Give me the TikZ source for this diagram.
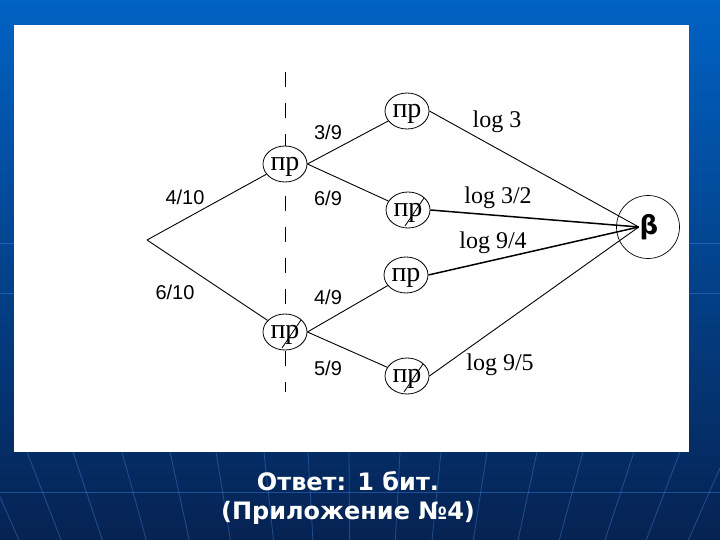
\documentclass[tikz,border=0pt]{standalone}
\usepackage{fontspec}
\setmainfont{Liberation Serif}
\newfontfamily\fracfont{Liberation Sans}
\newfontfamily\ansfont{DejaVu Sans}
\usetikzlibrary{shapes.geometric}

\definecolor{bgtop}{RGB}{0,98,196}
\definecolor{bgbot}{RGB}{6,34,82}
\definecolor{bgline}{RGB}{70,140,230}

\begin{document}
\begin{tikzpicture}[x=1pt,y=-1pt,line width=0.9pt,
  pr/.style={draw, ellipse, fill=white, minimum width=44pt, minimum height=36pt,
    inner sep=0pt, line width=0.8pt, text height=13pt, text depth=0pt,
    font=\fontsize{28}{28}\selectfont},
  prx/.style={pr, path picture={\draw[line width=0.8pt]
    ([shift={(-3pt,-16pt)}]path picture bounding box.center) --
    ([shift={(16pt,12pt)}]path picture bounding box.center);}},
  frac/.style={font=\fracfont\fontsize{20}{20}\selectfont, inner sep=1pt},
  lg/.style={font=\fontsize{24}{24}\selectfont, inner sep=1pt},
  faint/.style={draw=bgline, opacity=0.4, line width=0.8pt}]

  \useasboundingbox (0,0) rectangle (720,540);
  % slide background
  \shade[top color=bgtop, bottom color=bgbot] (0,0) rectangle (720,540);
  \begin{scope}
    \clip (0,0) rectangle (720,540);
    \foreach \x in {-20,27,73,122,170,216,264,308,349,400,441,487,537,583,634,680,727}
      \draw[faint] (\x,452) -- ({\x+(355-\x)*0.104},540);
    \foreach \y in {243,293,492}
      \draw[faint] (0,\y) -- (720,\y);
  \end{scope}
  \fill[white] (14,25) rectangle (689,452);

  \draw[dash pattern=on 15pt off 16pt] (285,72) -- (285,392);

  \coordinate (r) at (147,240);
  \node[pr]  (a1) at (285,164) {пр};
  \node[prx] (a2) at (285,332) {пр};
  \node[pr]  (b1) at (407,111) {пр};
  \node[prx] (b2) at (408,210) {пр};
  \node[pr]  (b3) at (406,275) {пр};
  \node[prx] (b4) at (407,376) {пр};
  \node[draw, circle, minimum size=63pt, inner sep=0pt, line width=0.7pt] (beta) at (648,227) {};
  \node[inner sep=0.5pt, font=\ansfont\bfseries\fontsize{26}{26}\selectfont] (bt) at (649,227) {β};

  \path
    (r) edge (a1)
        edge (a2)
    (a1.east) edge (b1)
              edge (b2)
    (a2.east) edge (b3)
              edge (b4)
    (b1.east) edge (bt.west)
    (b2.east) edge[line width=1.5pt] (bt.west)
    (b3.east) edge[line width=1.5pt] (bt.west)
    (b4.east) edge (bt.west);

  \node[frac] (f410) at (185,197) {4/10};
  \node[frac] (f610) at (175,292) {6/10};
  \node[frac] (f39)  at (328,132) {3/9};
  \node[frac] (f69)  at (328,198) {6/9};
  \node[frac] (f49)  at (328,297) {4/9};
  \node[frac] (f59)  at (328,368) {5/9};
  \node[lg] (g3)  at (497,122) {log 3};
  \node[lg] (g32) at (498,198) {log 3/2};
  \node[lg] (g94) at (493,243) {log 9/4};
  \node[lg] (g95) at (500,365) {log 9/5};

  \node[align=center, text=white, font=\ansfont\bfseries\fontsize{24}{29}\selectfont]
    (ans) at (348,498) {Ответ: 1 бит.\\(Приложение №4)};
\end{tikzpicture}
\end{document}
